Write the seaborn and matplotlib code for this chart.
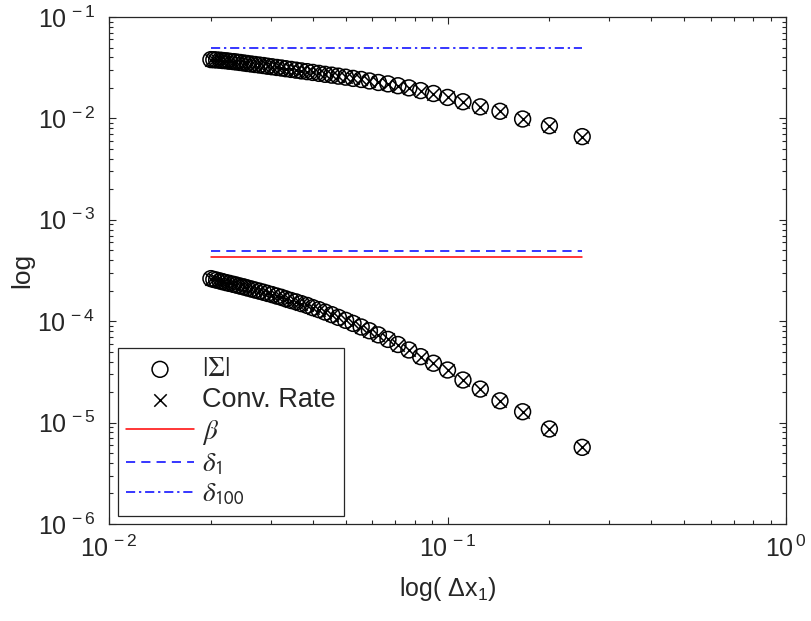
import numpy as np
import pandas as pd
import matplotlib
matplotlib.use("Agg")
import matplotlib.pyplot as plt
import matplotlib.ticker as mticker
from matplotlib.font_manager import FontProperties
import seaborn as sns

# grid spacing (dx = 1/N, N = 4..50)
dx = [0.25, 0.2, 0.1667, 0.1429, 0.125, 0.1111, 0.1, 0.0909, 0.0833, 0.0769,
      0.0714, 0.0667, 0.0625, 0.0588, 0.0556, 0.0526, 0.05, 0.0476, 0.0455, 0.0435,
      0.0417, 0.04, 0.0385, 0.037, 0.0357, 0.0345, 0.0333, 0.0323, 0.0313, 0.0303,
      0.0294, 0.0286, 0.0278, 0.027, 0.0263, 0.0256, 0.025, 0.0244, 0.0238, 0.0233,
      0.0227, 0.0222, 0.0217, 0.0213, 0.0208, 0.0204, 0.02]

# |Sigma| values, upper and lower curves
sigma_upper = [6.61e-3, 8.47e-3, 9.86e-3, 1.175e-2, 1.30e-2, 1.46e-2, 1.61e-2, 1.76e-2,
               1.88e-2, 2.00e-2, 2.10e-2, 2.19e-2, 2.26e-2, 2.34e-2, 2.42e-2, 2.48e-2,
               2.55e-2, 2.61e-2, 2.67e-2, 2.72e-2, 2.78e-2, 2.84e-2, 2.89e-2, 2.94e-2,
               2.99e-2, 3.04e-2, 3.09e-2, 3.14e-2, 3.18e-2, 3.23e-2, 3.27e-2, 3.32e-2,
               3.36e-2, 3.40e-2, 3.44e-2, 3.48e-2, 3.52e-2, 3.56e-2, 3.60e-2, 3.63e-2,
               3.66e-2, 3.70e-2, 3.72e-2, 3.75e-2, 3.77e-2, 3.79e-2, 3.80e-2]
sigma_lower = [5.70e-6, 8.65e-6, 1.28e-5, 1.64e-5, 2.14e-5, 2.63e-5, 3.30e-5, 3.85e-5,
               4.47e-5, 5.20e-5, 5.89e-5, 6.61e-5, 7.33e-5, 8.05e-5, 8.77e-5, 9.51e-5,
               1.02e-4, 1.09e-4, 1.16e-4, 1.23e-4, 1.30e-4, 1.36e-4, 1.43e-4, 1.49e-4,
               1.55e-4, 1.60e-4, 1.66e-4, 1.72e-4, 1.77e-4, 1.83e-4, 1.88e-4, 1.93e-4,
               1.98e-4, 2.03e-4, 2.08e-4, 2.13e-4, 2.18e-4, 2.22e-4, 2.27e-4, 2.31e-4,
               2.36e-4, 2.40e-4, 2.45e-4, 2.49e-4, 2.54e-4, 2.58e-4, 2.63e-4]
# convergence rate sits on the same points
conv_upper = sigma_upper
conv_lower = sigma_lower

# reference levels
line_x = [0.02, 0.25]
beta = 4.27e-4
delta_1 = 4.95e-4
delta_100 = 4.9e-2

sns.set_style("ticks")
plt.rcParams["font.family"] = ["Liberation Sans", "DejaVu Sans"]
plt.rcParams["mathtext.fontset"] = "custom"
plt.rcParams["mathtext.rm"] = "Liberation Sans"
plt.rcParams["mathtext.it"] = "Liberation Sans:italic"
plt.rcParams["mathtext.sf"] = "Liberation Sans"

fig = plt.figure(figsize=(8.11, 6.21), dpi=100)
ax = fig.add_axes([109 / 811, 1 - 524 / 621, 677 / 811, 507 / 621])
ax.set_xscale("log")
ax.set_yscale("log")

df_up = pd.DataFrame({"dx": dx, "sigma": sigma_upper, "conv": conv_upper})
df_lo = pd.DataFrame({"dx": dx, "sigma": sigma_lower, "conv": conv_lower})

for i, df in enumerate([df_up, df_lo]):
    sns.scatterplot(data=df, x="dx", y="sigma", ax=ax, marker="o", s=130,
                    facecolor="none", edgecolor="black", linewidth=1.1,
                    label=r"$|\Sigma|$" if i == 0 else None, zorder=3)
    sns.scatterplot(data=df, x="dx", y="conv", ax=ax, marker="x", s=80,
                    color="black", linewidth=1.1,
                    label="Conv. Rate" if i == 0 else None, zorder=4)

sns.lineplot(x=line_x, y=[beta, beta], ax=ax, color="red", linewidth=1.1,
             label=r"$\beta$")
sns.lineplot(x=line_x, y=[delta_1, delta_1], ax=ax, color="blue", linewidth=1.1,
             linestyle=(0, (6, 4)), label=r"$\delta_{\mathsf{1}}$")
sns.lineplot(x=line_x, y=[delta_100, delta_100], ax=ax, color="blue", linewidth=1.1,
             linestyle=(0, (6, 2.5, 1.5, 2.5)), label=r"$\delta_{\mathsf{100}}$")

ax.set_xlim(1e-2, 1e0)
ax.set_ylim(1e-6, 1e-1)

fmt = mticker.FuncFormatter(lambda v, p: r"$\mathregular{10^{\,%d}}$" % round(np.log10(v)))
ax.xaxis.set_major_locator(mticker.LogLocator(base=10, numticks=10))
ax.yaxis.set_major_locator(mticker.LogLocator(base=10, numticks=10))
ax.xaxis.set_minor_locator(mticker.LogLocator(base=10, subs=np.arange(2, 10), numticks=20))
ax.yaxis.set_minor_locator(mticker.LogLocator(base=10, subs=np.arange(2, 10), numticks=20))
ax.xaxis.set_major_formatter(fmt)
ax.yaxis.set_major_formatter(fmt)
ax.xaxis.set_minor_formatter(mticker.NullFormatter())
ax.yaxis.set_minor_formatter(mticker.NullFormatter())

ax.tick_params(which="both", direction="in", top=True, right=True,
               color="#262626", width=0.8)
ax.tick_params(which="major", length=5, labelsize=18, colors="#262626")
ax.tick_params(which="minor", length=3)
ax.tick_params(axis="x", which="major", pad=8)
ax.tick_params(axis="y", which="major", pad=10)
for sp in ax.spines.values():
    sp.set_visible(True)
    sp.set_color("#262626")
    sp.set_linewidth(0.9)

ax.set_xlabel(r"log( $\mathregular{\Delta}$x$_{\mathregular{1}}$)", fontsize=18,
              color="#262626", labelpad=10)
ax.set_ylabel("log", fontsize=19, color="#262626", labelpad=2)

# legend: greek letters in a serif math font, like the original
leg_font = FontProperties(family=["Liberation Sans", "DejaVu Sans"], size=19.5,
                          math_fontfamily="stix")
leg = ax.legend(loc="lower left", bbox_to_anchor=(0.0133, 0.0158), borderaxespad=0,
                prop=leg_font, frameon=True, fancybox=False, framealpha=1,
                edgecolor="#262626", handlelength=2.5, handletextpad=0.3,
                labelspacing=0.17, borderpad=0.3)
leg.get_frame().set_linewidth(0.9)

fig.savefig("out.png", dpi=100)
